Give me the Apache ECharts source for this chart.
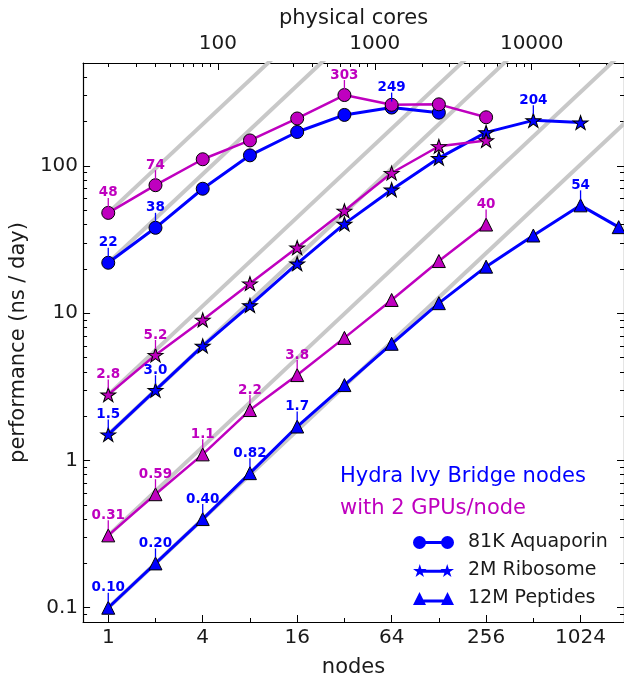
<!DOCTYPE html>
<html><head><meta charset="utf-8">
<script src="https://cdn.jsdelivr.net/npm/echarts@6/dist/echarts.min.js"></script>
<style>html,body{margin:0;padding:0;background:#fff}#c{width:624px;height:683px}</style>
</head><body><div id="c"></div>
<script>
// ---- data (nodes on x, ns/day on y) ----
const nodes = [1, 2, 4, 8, 16, 32, 64, 128, 256, 512, 1024, 1792];
const aquaporinCpu = [22, 38, 70, 118, 170, 222, 249, 230];
const aquaporinGpu = [48, 74, 111, 149, 210, 303, 260, 262, 214];
const ribosomeCpu  = [1.5, 3.0, 6.0, 11.3, 21.7, 40.4, 69, 113, 169, 204, 197];
const ribosomeGpu  = [2.8, 5.2, 9.0, 15.9, 27.9, 49.6, 89.5, 136, 149];
const peptidesCpu  = [0.10, 0.20, 0.40, 0.82, 1.7, 3.25, 6.2, 11.7, 20.7, 33.7, 54, 38.4];
const peptidesGpu  = [0.31, 0.59, 1.1, 2.2, 3.8, 6.8, 12.3, 22.6, 40];
// indices of points carrying a value label
const aquaporinCpuLabels = [0, 1, 6];
const aquaporinGpuLabels = [0, 1, 5];
const ribosomeCpuLabels  = [0, 1, 9];
const ribosomeGpuLabels  = [0, 1];
const peptidesCpuLabels  = [0, 1, 2, 3, 4, 10];
const peptidesGpuLabels  = [0, 1, 2, 3, 4, 8];
// ticks
const nodeTicks = [1, 4, 16, 64, 256, 1024];
const nodeMinorTicks = [2, 8, 32, 128, 512];
const coreTicks = [100, 1000, 10000];
const coreMinorTicks = [20,30,40,50,60,70,80,90,200,300,400,500,600,700,800,900,2000,3000,4000,5000,6000,7000,8000,9000,20000,30000];
const perfTicks = [0.1, 1, 10, 100];
const perfMinorTicks = [0.09,0.2,0.3,0.4,0.5,0.6,0.7,0.8,0.9,2,3,4,5,6,7,8,9,20,30,40,50,60,70,80,90,200,300,400];
const coresPerNode = 20;
const nodeRange = [0.691, 1937];
const perfRange = [0.08, 500];

// ---- styles ----
const BLUE = '#0000ff', MAG = '#bf00bf', FONT = 'DejaVu Sans';
function starPath(cx, cy, R) {
  const r = R * 0.382, pts = [];
  for (let i = 0; i < 10; i++) {
    const a = (-90 + 36 * i) * Math.PI / 180, rr = i % 2 ? r : R;
    pts.push((cx + rr * Math.cos(a)).toFixed(2) + ' ' + (cy + rr * Math.sin(a)).toFixed(2));
  }
  return 'M' + pts.join(' L') + ' Z';
}
const STAR = 'path://' + starPath(50, 50, 50);
const iconCircle = 'path://M0 6.5 A6.5 6.5 0 1 1 13 6.5 A6.5 6.5 0 1 1 0 6.5 Z M28 6.5 A6.5 6.5 0 1 1 41 6.5 A6.5 6.5 0 1 1 28 6.5 Z M6.5 5 L34.5 5 L34.5 8 L6.5 8 Z';
const iconStar = 'path://' + starPath(7, 7, 7) + ' ' + starPath(34, 7, 7) + ' M7 5.5 L34 5.5 L34 8.5 L7 8.5 Z';
const iconTri = 'path://M0 13 L6.5 0 L13 13 Z M28 13 L34.5 0 L41 13 Z M6.5 7.5 L34.5 7.5 L34.5 10.5 L6.5 10.5 Z';

function pairs(vals) { return vals.map((v, i) => [nodes[i], v]); }
function lineSeries(name, vals, color, symbol, size, width) {
  return {
    name, type: 'line', xAxisIndex: 0, yAxisIndex: 0, data: pairs(vals),
    symbol, symbolSize: size, showAllSymbol: true,
    lineStyle: { color, width },
    itemStyle: { color, borderColor: '#000', borderWidth: 1 },
    emphasis: { disabled: true }
  };
}
const idealStarts = [aquaporinGpu[0], aquaporinCpu[0], ribosomeGpu[0], ribosomeCpu[0], peptidesGpu[0], peptidesCpu[0]];
const idealSeries = idealStarts.map(v => ({
  type: 'line', xAxisIndex: 0, yAxisIndex: 0, symbol: 'none', silent: true,
  data: [[1, v], [4096, v * 4096]],
  lineStyle: { color: '#c8c8c8', width: 4 }, z: 1
}));
function labelSeries(vals, idx, color) {
  return {
    type: 'custom', xAxisIndex: 0, yAxisIndex: 0, silent: true, z: 5,
    data: idx.map(i => [nodes[i], vals[i]]),
    renderItem: (params, api) => {
      const v = api.value(1);
      const p = api.coord([api.value(0), v]);
      const txt = v >= 100 ? String(Math.round(v)) : v.toPrecision(2);
      return { type: 'group', children: [
        { type: 'line', shape: { x1: p[0], y1: p[1] - 6, x2: p[0], y2: p[1] - 15 }, style: { stroke: color, lineWidth: 1.3 } },
        { type: 'text', x: p[0], y: p[1] - 20, style: { text: txt, fill: color, font: 'bold 13.5px "DejaVu Sans"', align: 'center', verticalAlign: 'middle' } }
      ] };
    }
  };
}

const tickLine = { color: '#000', width: 1 };
const labelStyle = { fontFamily: FONT, fontSize: 20, color: '#1a1a1a' };
const fmt = v => String(+(+v).toPrecision(6));
function logAxis(extra) {
  return Object.assign({ type: 'log', splitLine: { show: false }, axisLine: { show: false }, axisLabel: { show: false } }, extra);
}

const chart = echarts.init(document.getElementById('c'), null, { renderer: 'canvas' });
chart.setOption({
  animation: false,
  backgroundColor: '#fff',
  grid: { left: 81, top: 63, width: 544, height: 564 },
  xAxis: [
    logAxis({ logBase: 2, position: 'bottom', min: nodeRange[0], max: nodeRange[1],
      axisLine: { show: true, onZero: false, lineStyle: { color: '#000', width: 1.2 } },
      axisTick: { inside: true, length: 7, customValues: nodeTicks, lineStyle: tickLine },
      axisLabel: { show: true, customValues: nodeTicks, formatter: fmt, margin: 6, ...labelStyle },
      name: 'nodes', nameLocation: 'middle', nameGap: 35, nameTextStyle: { fontFamily: FONT, fontSize: 21, color: '#1a1a1a' } }),
    logAxis({ logBase: 2, position: 'bottom', min: nodeRange[0], max: nodeRange[1],
      axisTick: { inside: true, length: 4, customValues: nodeMinorTicks, lineStyle: tickLine } }),
    logAxis({ logBase: 10, position: 'top', min: nodeRange[0] * coresPerNode, max: nodeRange[1] * coresPerNode,
      axisLine: { show: true, onZero: false, lineStyle: { color: '#000', width: 1.2 } },
      axisTick: { inside: true, length: 7, customValues: coreTicks, lineStyle: tickLine },
      axisLabel: { show: true, customValues: coreTicks, formatter: fmt, margin: 9, ...labelStyle },
      name: 'physical cores', nameLocation: 'middle', nameGap: 34, nameTextStyle: { fontFamily: FONT, fontSize: 21, color: '#1a1a1a' } }),
    logAxis({ logBase: 10, position: 'top', min: nodeRange[0] * coresPerNode, max: nodeRange[1] * coresPerNode,
      axisTick: { inside: true, length: 4, customValues: coreMinorTicks, lineStyle: tickLine } })
  ],
  yAxis: [
    logAxis({ logBase: 10, position: 'left', min: perfRange[0], max: perfRange[1],
      axisLine: { show: true, onZero: false, lineStyle: { color: '#000', width: 1.2 } },
      axisTick: { inside: true, length: 7, customValues: perfTicks, lineStyle: tickLine },
      axisLabel: { show: true, customValues: perfTicks, formatter: fmt, margin: 5, ...labelStyle },
      name: 'performance (ns / day)', nameLocation: 'middle', nameGap: 44, nameRotate: 90,
      nameTextStyle: { fontFamily: FONT, fontSize: 21, color: '#1a1a1a' } }),
    logAxis({ logBase: 10, position: 'left', min: perfRange[0], max: perfRange[1],
      axisTick: { inside: true, length: 4, customValues: perfMinorTicks, lineStyle: tickLine } }),
    logAxis({ logBase: 10, position: 'right', min: perfRange[0], max: perfRange[1],
      axisLine: { show: true, onZero: false, lineStyle: { color: '#000', width: 1.2 } },
      axisTick: { inside: true, length: 7, customValues: perfTicks, lineStyle: tickLine } }),
    logAxis({ logBase: 10, position: 'right', min: perfRange[0], max: perfRange[1],
      axisTick: { inside: true, length: 4, customValues: perfMinorTicks, lineStyle: tickLine } })
  ],
  legend: {
    orient: 'vertical', left: 413, top: 533, padding: 0, itemWidth: 41, itemHeight: 13, itemGap: 9,
    selectedMode: false,
    itemStyle: { borderWidth: 0 },
    textStyle: { fontFamily: FONT, fontSize: 19, color: '#1a1a1a', padding: [0, 0, 0, 9] },
    data: [
      { name: '81K Aquaporin', icon: iconCircle },
      { name: '2M Ribosome', icon: iconStar },
      { name: '12M Peptides', icon: iconTri }
    ]
  },
  graphic: [
    { type: 'text', left: 340, top: 466, style: { text: 'Hydra Ivy Bridge nodes', fill: BLUE, font: '21px "DejaVu Sans"' } },
    { type: 'text', left: 340, top: 498, style: { text: 'with 2 GPUs/node', fill: MAG, font: '21px "DejaVu Sans"' } }
  ],
  series: [
    ...idealSeries,
    lineSeries('81K Aquaporin', aquaporinCpu, BLUE, 'circle', 13, 3),
    lineSeries('2M Ribosome', ribosomeCpu, BLUE, STAR, [15, 14], 3),
    lineSeries('12M Peptides', peptidesCpu, BLUE, 'triangle', 13, 3),
    lineSeries('81K Aquaporin (GPU)', aquaporinGpu, MAG, 'circle', 13, 2.5),
    lineSeries('2M Ribosome (GPU)', ribosomeGpu, MAG, STAR, [15, 14], 2.5),
    lineSeries('12M Peptides (GPU)', peptidesGpu, MAG, 'triangle', 13, 2.5),
    labelSeries(aquaporinCpu, aquaporinCpuLabels, BLUE),
    labelSeries(ribosomeCpu, ribosomeCpuLabels, BLUE),
    labelSeries(peptidesCpu, peptidesCpuLabels, BLUE),
    labelSeries(aquaporinGpu, aquaporinGpuLabels, MAG),
    labelSeries(ribosomeGpu, ribosomeGpuLabels, MAG),
    labelSeries(peptidesGpu, peptidesGpuLabels, MAG)
  ]
});
</script>
</body></html>
